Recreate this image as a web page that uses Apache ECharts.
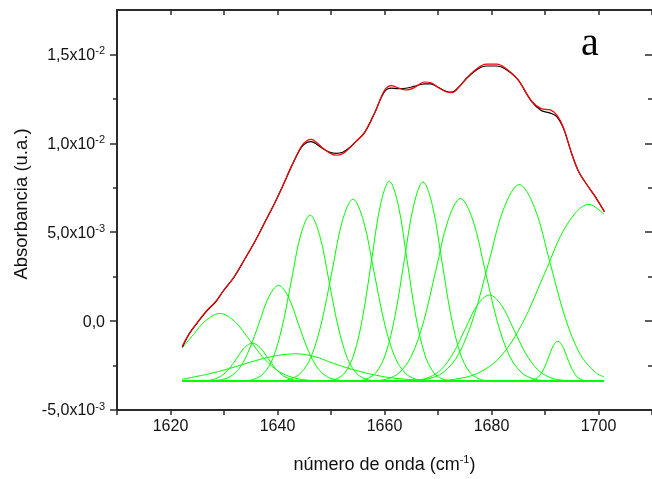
<!DOCTYPE html>
<html>
<head>
<meta charset="utf-8">
<script src="https://cdn.jsdelivr.net/npm/echarts@6/dist/echarts.min.js"></script>
<style>
  html, body { margin: 0; padding: 0; background: #ffffff; }
  #chart { width: 652px; height: 479px; }
</style>
</head>
<body>
<div id="chart"></div>
<script>
// Amide I band, absorbance in units of 1e-3 against wavenumber (cm-1)

// measured spectrum
const measured = [
  [1622.2,-1.47],[1623.5,-0.72],[1625,-0.1],[1626.8,0.58],[1628.5,1.1],[1630,1.75],
  [1631.8,2.44],[1634,3.55],[1635.8,4.49],[1637.7,5.6],[1639.6,6.72],[1641.2,7.75],
  [1642.7,8.76],[1644.5,9.8],[1645.5,10.05],[1646.3,10.1],[1647.3,9.95],[1648.5,9.7],
  [1649.8,9.5],[1651,9.44],[1652.2,9.5],[1653.2,9.69],[1654.5,10.05],[1656.3,10.62],
  [1658.2,11.74],[1660,12.9],[1661.3,13.1],[1662.5,13.08],[1664,13.1],[1665.5,13.2],
  [1667.5,13.35],[1668.6,13.35],[1670,13.15],[1671.5,12.93],[1672.6,12.88],[1674,13.2],
  [1675.5,13.7],[1677.5,14.2],[1679,14.35],[1681,14.35],[1682.5,14.2],[1684.9,13.6],
  [1687.4,12.39],[1689.3,11.85],[1691,11.7],[1692.2,11.5],[1693.5,10.8],[1694.9,9.5],
  [1696.3,8.4],[1698,7.6],[1699.5,6.95],[1701.1,6.16]
];

// sum of the fitted bands
const fitted = [
  [1622.2,-1.42],[1623.5,-0.7],[1625,-0.08],[1626.8,0.6],[1628.5,1.12],[1630,1.76],
  [1631.8,2.45],[1634,3.55],[1635.8,4.49],[1637.7,5.6],[1639.6,6.72],[1641.2,7.75],
  [1642.7,8.76],[1644.5,9.85],[1645.5,10.15],[1646.3,10.22],[1647.3,10.05],[1648.5,9.72],
  [1649.8,9.45],[1651,9.33],[1652.2,9.42],[1653.2,9.66],[1654.5,10.05],[1656.3,10.62],
  [1658.2,11.74],[1660,12.98],[1661.3,13.25],[1662.5,13.12],[1664,13.0],[1665.5,13.12],
  [1667.5,13.45],[1668.6,13.42],[1670,13.15],[1671.5,12.9],[1672.6,12.85],[1674,13.2],
  [1675.5,13.72],[1677.5,14.25],[1679,14.45],[1681,14.45],[1682.5,14.25],[1684.9,13.6],
  [1687.4,12.42],[1689.3,11.95],[1691,11.88],[1692.2,11.6],[1693.5,10.85],[1694.9,9.5],
  [1696.3,8.4],[1698,7.6],[1699.5,6.95],[1701.1,6.16]
];

// fit baseline
const baseline = [[1622.2,-3.37],[1701,-3.37]];

// individual fitted bands
const band1629 = [[1622.2,-1.5],[1624.3,-0.75],[1626.4,-0.02],[1629.2,0.43],[1632.0,-0.02],[1634.8,-1.07],[1637.6,-2.14],[1640.4,-2.86],[1643.2,-3.2],[1646.0,-3.33],[1650,-3.37],[1701,-3.37]];
const band1635 = [[1622.2,-3.37],[1626.6,-3.35],[1628.05,-3.28],[1629.5,-3.08],[1630.95,-2.68],[1632.4,-2.08],[1633.85,-1.49],[1635.3,-1.24],[1636.75,-1.49],[1638.2,-2.08],[1639.65,-2.68],[1641.1,-3.08],[1642.55,-3.28],[1644.0,-3.35],[1701,-3.37]];
const band1643 = [[1622.2,-3.27],[1627,-2.98],[1631,-2.67],[1635,-2.3],[1639.3,-1.97],[1643.5,-1.84],[1647,-2.0],[1650.4,-2.37],[1654,-2.72],[1658,-3.02],[1662,-3.22],[1667,-3.32],[1672,-3.36],[1701,-3.37]];
const band1640 = [[1622.2,-3.37],[1627.4,-3.36],[1629.25,-3.31],[1631.1,-3.13],[1632.9,-2.64],[1634.7,-1.62],[1636.55,-0.11],[1638.4,1.38],[1640.2,2.01],[1642.0,1.38],[1643.85,-0.11],[1645.7,-1.62],[1647.5,-2.64],[1649.3,-3.13],[1651.15,-3.31],[1653,-3.36],[1701,-3.37]];
const band1646 = [[1622.2,-3.37],[1633.9,-3.35],[1635.6,-3.27],[1637.35,-2.96],[1639.1,-2.11],[1640.85,-0.34],[1642.6,2.29],[1644.35,4.86],[1646.1,5.96],[1647.85,4.86],[1649.6,2.29],[1651.35,-0.34],[1653.1,-2.11],[1654.85,-2.96],[1656.6,-3.27],[1658.35,-3.35],[1701,-3.37]];
const band1654 = [[1622.2,-3.37],[1640.5,-3.35],[1642.4,-3.26],[1644.35,-2.92],[1646.3,-1.99],[1648.25,-0.05],[1650.2,2.83],[1652.15,5.66],[1654.1,6.86],[1656.05,5.66],[1658.0,2.83],[1659.95,-0.05],[1661.9,-1.99],[1663.85,-2.92],[1665.8,-3.26],[1667.75,-3.35],[1701,-3.37]];
const band1661 = [[1622.2,-3.37],[1649.35,-3.35],[1651.0,-3.25],[1652.65,-2.88],[1654.3,-1.85],[1655.95,0.28],[1657.6,3.45],[1659.25,6.55],[1660.9,7.87],[1662.55,6.55],[1664.2,3.45],[1665.85,0.28],[1667.5,-1.85],[1669.15,-2.88],[1670.8,-3.25],[1672.45,-3.35],[1701,-3.37]];
const band1667 = [[1622.2,-3.37],[1654.95,-3.35],[1656.7,-3.25],[1658.45,-2.88],[1660.2,-1.85],[1661.95,0.27],[1663.7,3.42],[1665.45,6.51],[1667.2,7.83],[1668.95,6.51],[1670.7,3.42],[1672.45,0.27],[1674.2,-1.85],[1675.95,-2.88],[1677.7,-3.25],[1679.45,-3.35],[1701,-3.37]];
const band1674 = [[1622.2,-3.37],[1658.1,-3.35],[1660.4,-3.26],[1662.7,-2.92],[1665.0,-1.98],[1667.3,-0.04],[1669.6,2.86],[1671.9,5.69],[1674.2,6.9],[1676.5,5.69],[1678.8,2.86],[1681.1,-0.04],[1683.4,-1.98],[1685.7,-2.92],[1688.0,-3.26],[1690.3,-3.35],[1701,-3.37]];
const band1680 = [[1622.2,-3.37],[1663.9,-3.36],[1666.1,-3.32],[1668.35,-3.16],[1670.6,-2.72],[1672.85,-1.8],[1675.1,-0.43],[1677.35,0.9],[1679.6,1.47],[1681.85,0.9],[1684.1,-0.43],[1686.35,-1.8],[1688.6,-2.72],[1690.85,-3.16],[1693.1,-3.32],[1695.3,-3.36],[1701,-3.37]];
const band1685 = [[1622.2,-3.37],[1665.3,-3.35],[1668.1,-3.25],[1670.95,-2.89],[1673.8,-1.88],[1676.65,0.22],[1679.5,3.33],[1682.35,6.38],[1685.2,7.68],[1688.05,6.38],[1690.9,3.33],[1693.75,0.22],[1696.6,-1.88],[1699.45,-2.89],[1701,-3.13]];
const band1692 = [[1622.2,-3.37],[1686.4,-3.37],[1687.3,-3.35],[1688.15,-3.27],[1689.0,-3.07],[1689.85,-2.64],[1690.7,-2.01],[1691.55,-1.39],[1692.4,-1.13],[1693.25,-1.39],[1694.1,-2.01],[1694.95,-2.64],[1695.8,-3.07],[1696.65,-3.27],[1697.5,-3.35],[1698.4,-3.37],[1701,-3.37]];
const band1698 = [[1622.2,-3.37],[1665,-3.36],[1669.15,-3.35],[1673.3,-3.26],[1677.45,-2.93],[1681.6,-2.03],[1685.75,-0.14],[1689.9,2.66],[1694.05,5.4],[1698.2,6.57],[1701,6.02]];

const bands = [band1629, band1635, band1643, band1640, band1646, band1654, band1661,
               band1667, band1674, band1680, band1685, band1692, band1698];

// axis ticks and labels
const xLabelValues = [1620, 1640, 1660, 1680, 1700];
const yMajorValues = [-5, 0, 5, 10, 15];
const yMinorValues = [-2.5, 2.5, 7.5, 12.5];
const yLabelMantissa = ['-5,0x10', '0,0', '5,0x10', '1,0x10', '1,5x10'];
const yLabelExponent = ['-3', '', '-3', '-2', '-2'];

const X_MIN = 1610, X_MAX = 1710, Y_MIN = -5, Y_MAX = 17.5;
const AXIS_COLOR = '#2b2b2b';
const TEXT_COLOR = '#111111';
const FONT = '"Liberation Sans", Arial, sans-serif';

const chart = echarts.init(document.getElementById('chart'), null, { renderer: 'canvas' });

function yLabel(v) {
  const i = yMajorValues.findIndex(t => Math.abs(t - v) < 1e-9);
  if (i < 0) return '';
  return yLabelExponent[i]
    ? '{b|' + yLabelMantissa[i] + '}{s|' + yLabelExponent[i] + '}'
    : '{b|' + yLabelMantissa[i] + '}';
}

const yBase = { type: 'value', min: Y_MIN, max: Y_MAX, splitLine: { show: false } };
const xBase = { type: 'value', min: X_MIN, max: X_MAX, interval: 10, splitLine: { show: false } };

const lineSeries = (data, color, width, z) => ({
  type: 'line', data: data, xAxisIndex: 0, yAxisIndex: 0,
  showSymbol: false, smooth: 0.35, silent: true, z: z,
  lineStyle: { color: color, width: width }
});

const series = [];
bands.forEach(b => series.push(lineSeries(b, '#00ff00', 1, 2)));
series.push(lineSeries(baseline, '#00ff00', 2.2, 2));
series.push(lineSeries(measured, '#000000', 1.2, 3));
series.push(lineSeries(fitted, '#ff0000', 1.2, 4));

chart.setOption({
  animation: false,
  backgroundColor: '#ffffff',
  grid: { left: 117, top: 10, bottom: 66, width: 537, containLabel: false },
  xAxis: [
    Object.assign({}, xBase, {
      position: 'bottom',
      name: '{t|número de onda (cm}{s|-1}{t|)}',
      nameLocation: 'middle', nameGap: 44,
      nameTextStyle: { rich: {
        t: { fontFamily: FONT, fontSize: 18, color: TEXT_COLOR, lineHeight: 20, verticalAlign: 'bottom' },
        s: { fontFamily: FONT, fontSize: 11, color: TEXT_COLOR, lineHeight: 20, verticalAlign: 'top' }
      } },
      axisLine: { show: true, onZero: false, lineStyle: { color: AXIS_COLOR, width: 2 } },
      axisTick: { show: true, inside: false, length: 5, lineStyle: { color: AXIS_COLOR, width: 1.5 } },
      axisLabel: {
        show: true, customValues: xLabelValues, margin: 9, formatter: v => String(v),
        fontFamily: FONT, fontSize: 16, color: TEXT_COLOR
      }
    }),
    Object.assign({}, xBase, {
      position: 'top',
      axisLine: { show: true, onZero: false, lineStyle: { color: AXIS_COLOR, width: 2 } },
      axisTick: { show: true, inside: true, length: 5, lineStyle: { color: AXIS_COLOR, width: 1.5 } },
      axisLabel: { show: false }
    })
  ],
  yAxis: [
    Object.assign({}, yBase, {
      position: 'left',
      name: 'Absorbancia (u.a.)', nameLocation: 'middle', nameGap: 86,
      nameTextStyle: { fontFamily: FONT, fontSize: 18.5, color: TEXT_COLOR, padding: [0, 0, 0, 12] },
      axisLine: { show: true, onZero: false, lineStyle: { color: AXIS_COLOR, width: 2 } },
      axisTick: { show: true, inside: false, length: 7, customValues: yMajorValues, lineStyle: { color: AXIS_COLOR, width: 1.5 } },
      axisLabel: {
        show: true, customValues: yMajorValues, margin: 12, formatter: yLabel,
        rich: {
          b: { fontFamily: FONT, fontSize: 16, color: TEXT_COLOR, lineHeight: 18, verticalAlign: 'bottom' },
          s: { fontFamily: FONT, fontSize: 11, color: TEXT_COLOR, lineHeight: 18, verticalAlign: 'top' }
        }
      }
    }),
    Object.assign({}, yBase, {
      position: 'left',
      axisLine: { show: false },
      axisTick: { show: true, inside: false, length: 4, customValues: yMinorValues, lineStyle: { color: AXIS_COLOR, width: 1.5 } },
      axisLabel: { show: false }
    }),
    Object.assign({}, yBase, {
      position: 'right',
      axisLine: { show: false },
      axisTick: { show: true, inside: true, length: 7, customValues: yMajorValues, lineStyle: { color: AXIS_COLOR, width: 1.5 } },
      axisLabel: { show: false }
    }),
    Object.assign({}, yBase, {
      position: 'right',
      axisLine: { show: false },
      axisTick: { show: true, inside: true, length: 4, customValues: yMinorValues, lineStyle: { color: AXIS_COLOR, width: 1.5 } },
      axisLabel: { show: false }
    })
  ],
  graphic: [{
    type: 'text', left: 581, top: 24, silent: true,
    style: { text: 'a', font: '40px "Liberation Serif", "Times New Roman", serif', fill: '#000' }
  }],
  series: series
});
</script>
</body>
</html>
